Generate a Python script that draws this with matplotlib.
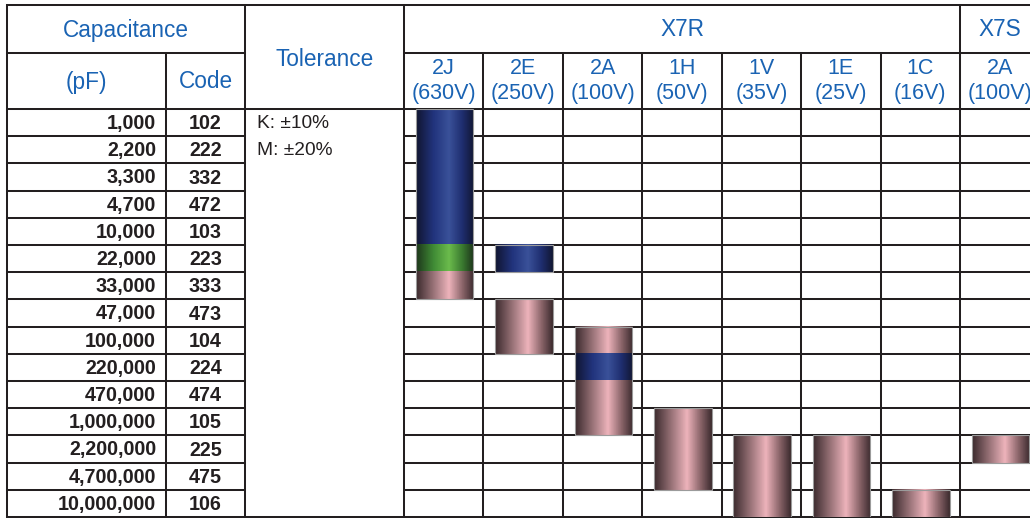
import numpy as np
import matplotlib.pyplot as plt
from matplotlib.colors import LinearSegmentedColormap
from matplotlib.patches import Rectangle

plt.rcParams['font.family'] = ['Liberation Sans', 'DejaVu Sans']

# ================================== Data ======================================
capacitances = ['1,000', '2,200', '3,300', '4,700', '10,000', '22,000', '33,000',
                '47,000', '100,000', '220,000', '470,000', '1,000,000',
                '2,200,000', '4,700,000', '10,000,000']
codes = ['102', '222', '332', '472', '103', '223', '333', '473', '104', '224',
         '474', '105', '225', '475', '106']
tolerances = ['K: \u00b110%', 'M: \u00b120%']
dielectrics = ['X7R', 'X7S']
dielectric_span = [7, 1]
voltage_codes = ['2J', '2E', '2A', '1H', '1V', '1E', '1C', '2A']
voltages = ['630V', '250V', '100V', '50V', '35V', '25V', '16V', '100V']

# available ranges: column index, first code, last code, material
seg_col = [0, 0, 0, 1, 1, 2, 2, 2, 3, 4, 5, 6, 7]
seg_first = ['102', '223', '333', '223', '473', '104', '224', '474', '105', '225', '225', '106', '225']
seg_last = ['103', '223', '333', '223', '104', '104', '224', '105', '475', '106', '106', '106', '225']
seg_kind = ['blue', 'green', 'pink', 'blue', 'pink', 'pink', 'blue', 'pink', 'pink', 'pink', 'pink', 'pink', 'pink']

# ================================== Style =====================================
BLUE_TXT = '#1a63b3'
INK = '#231f20'
LW = 1.45
cmaps = {
    'pink': LinearSegmentedColormap.from_list('pink', [(0, '#3a292c'), (0.3, '#987277'), (0.57, '#edb3bb'),
                                                      (0.8, '#8c666b'), (1, '#3b2a2d')]),
    'blue': LinearSegmentedColormap.from_list('blue', [(0, '#10152f'), (0.3, '#21337c'), (0.57, '#3a5199'),
                                                      (0.8, '#1f2e70'), (1, '#111732')]),
    'green': LinearSegmentedColormap.from_list('green', [(0, '#1d351b'), (0.3, '#3f8a35'), (0.57, '#6bbb4c'),
                                                        (0.8, '#3a7a30'), (1, '#1c331a')]),
}

W, H = 1030, 518
x_left, x_code, x_tol, x_grid = 7, 166, 245, 404
y_top, y_mid, y_head, y_bot = 5, 53, 109, 517
col_w = 79.43
row_h = (y_bot - y_head) / len(codes)
n_cols = len(voltage_codes)

fig = plt.figure(figsize=(W / 100, H / 100), dpi=100)

# main axes in pixel units for the left part and header
ax = fig.add_axes([0, 0, 1, 1])
ax.set_xlim(0, W)
ax.set_ylim(H, 0)
ax.axis('off')

line_kw = dict(color=INK, lw=LW, solid_capstyle='projecting', clip_on=False)
x_right = x_grid + n_cols * col_w
ax.plot([x_left, x_right], [y_top, y_top], **line_kw)
ax.plot([x_left, x_tol], [y_mid, y_mid], **line_kw)
ax.plot([x_grid, x_right], [y_mid, y_mid], **line_kw)
ax.plot([x_left, x_right], [y_head, y_head], **line_kw)
ax.plot([x_left, x_right], [y_bot, y_bot], **line_kw)
for i in range(1, len(codes)):
    y = y_head + i * row_h
    ax.plot([x_left, x_tol], [y, y], **line_kw)
for x in [x_left, x_tol, x_grid]:
    ax.plot([x, x], [y_top, y_bot], **line_kw)
ax.plot([x_code, x_code], [y_mid, y_bot], **line_kw)
# dielectric separators and voltage column lines in the header
c = 0
for span in dielectric_span:
    c += span
    ax.plot([x_grid + c * col_w] * 2, [y_top, y_head], **line_kw)
for i in range(1, n_cols):
    ax.plot([x_grid + i * col_w] * 2, [y_mid, y_head], **line_kw)

head_kw = dict(color=BLUE_TXT, fontsize=16.3, ha='center', va='center')
ax.text((x_left + x_tol) / 2, (y_top + y_mid) / 2 + 1, 'Capacitance', **head_kw)
ax.text((x_left + x_code) / 2, (y_mid + y_head) / 2 + 1, '(pF)', **head_kw)
ax.text((x_code + x_tol) / 2, (y_mid + y_head) / 2 + 1, 'Code', **head_kw)
ax.text((x_tol + x_grid) / 2, (y_top + y_head) / 2 + 2, 'Tolerance', **head_kw)
c = 0
for name, span in zip(dielectrics, dielectric_span):
    ax.text(x_grid + (c + span / 2) * col_w, (y_top + y_mid) / 2 + 1, name, **head_kw)
    c += span
for i, (vc, v) in enumerate(zip(voltage_codes, voltages)):
    xc = x_grid + (i + 0.5) * col_w
    ax.text(xc, 69, vc, color=BLUE_TXT, fontsize=15.5, ha='center', va='center')
    ax.text(xc, 93, '(' + v + ')', color=BLUE_TXT, fontsize=15.5, ha='center', va='center')

for i, (cap, code) in enumerate(zip(capacitances, codes)):
    yc = y_head + (i + 0.5) * row_h + 1
    ax.text(x_code - 10, yc, cap, color=INK, fontsize=14.2, fontweight='bold', ha='right', va='center')
    ax.text((x_code + x_tol) / 2, yc, code, color=INK, fontsize=14.2, fontweight='bold',
            ha='center', va='center')
for i, tol in enumerate(tolerances):
    ax.text(x_tol + 12, y_head + (i + 0.5) * row_h + 1, tol, color=INK, fontsize=13.8, ha='left', va='center')

# grid axes in column / row units
gax = fig.add_axes([x_grid / W, (H - y_bot) / H, n_cols * col_w / W, (y_bot - y_head) / H])
gax.patch.set_alpha(0)
gax.axis('off')
for i in range(1, len(codes)):
    gax.axhline(i, color=INK, lw=LW, zorder=1)
for i in range(1, n_cols):
    gax.axvline(i, color=INK, lw=LW, zorder=1)

half = 0.362
grad = np.linspace(0, 1, 256).reshape(1, -1)
row_of = {cd: i for i, cd in enumerate(codes)}
for col, first, last, kind in zip(seg_col, seg_first, seg_last, seg_kind):
    r0, r1 = row_of[first], row_of[last] + 1
    gax.imshow(grad, cmap=cmaps[kind], aspect='auto', interpolation='nearest',
               extent=(col + 0.5 - half + 0.01, col + 0.5 + half + 0.01, r1, r0), zorder=2)

# outline around each contiguous bar
for col in sorted(set(seg_col)):
    spans = sorted((row_of[f], row_of[l] + 1) for cc, f, l in zip(seg_col, seg_first, seg_last) if cc == col)
    runs = [list(spans[0])]
    for a, b in spans[1:]:
        if a == runs[-1][1]:
            runs[-1][1] = b
        else:
            runs.append([a, b])
    for a, b in runs:
        gax.add_patch(Rectangle((col + 0.5 - half + 0.01, a), 2 * half, b - a, fill=False,
                                ec='#9b9b9b', lw=0.8, zorder=3))

gax.set_xlim(0, n_cols)
gax.set_ylim(len(codes), 0)

fig.savefig('out.png', dpi=100)
